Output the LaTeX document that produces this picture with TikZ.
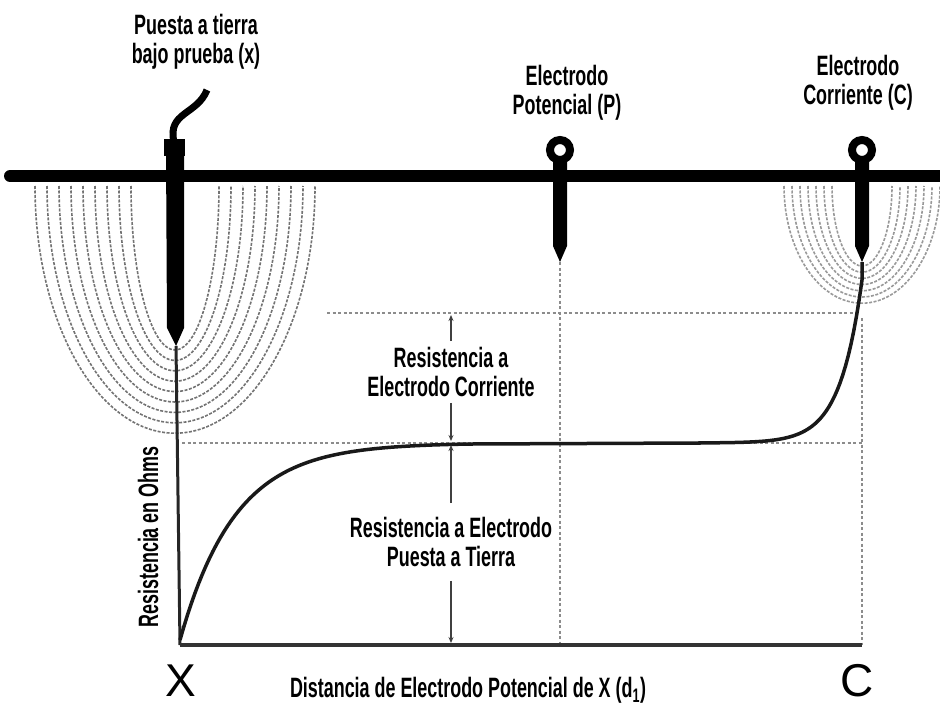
\documentclass[tikz,border=0pt]{standalone}
\usepackage{fontspec}
\setmainfont{Liberation Sans}[FakeStretch=0.64]
\newfontfamily\bigfont{Liberation Sans}
\usetikzlibrary{arrows.meta, positioning}

\tikzset{
  ground/.style={line width=12pt, line cap=round},
  ring/.style={line width=8pt},
  field/.style={black!55, line width=1.6pt, dash pattern=on 3pt off 1.5pt},
  guide/.style={black!45, line width=2pt, dash pattern=on 3pt off 2.5pt},
  curve/.style={line width=3.5pt, black!90},
  axis/.style={line width=4pt, black!80},
  dim/.style={line width=1.6pt, black!75, -{Stealth[length=6pt, width=5pt]}},
  lbl/.style={align=center, font=\bfseries\fontsize{28}{29}\selectfont, inner sep=2pt},
  big/.style={font=\bigfont\fontsize{46}{46}\selectfont, inner sep=0pt}
}

\begin{document}
\begin{tikzpicture}[x=1pt, y=-1pt]
  \useasboundingbox (0,0) rectangle (940,706);
  \coordinate (xtip) at (176,346);
  \coordinate (ptip) at (560,262);
  \coordinate (ctip) at (862,262);
  \coordinate (o) at (180,645);
  \coordinate (cend) at (862,645);

  % lineas de campo
  \foreach \i in {0,...,8}{
    \pgfmathsetmacro\w{44+12*\i}
    \pgfmathsetmacro\d{164+10.4*\i}
    \draw[field] ({175-\w},186) arc[start angle=180, end angle=360, x radius=\w pt, y radius=\d pt];
  }
  \foreach \i in {0,...,6}{
    \pgfmathsetmacro\w{30+8*\i}
    \pgfmathsetmacro\d{80+6.2*\i}
    \draw[field, black!40] ({862-\w},186) arc[start angle=180, end angle=360, x radius=\w pt, y radius=\d pt];
  }

  \draw[guide] (182,443) -- (862,443);
  \draw[guide] (327,313) -- (856,313);
  \draw[guide] (ptip) -- (ptip |- o);
  \draw[guide] (862,318) -- (cend);

  \draw[line width=3pt, black!85] (xtip) -- (o);
  \draw[axis] (o) -- (cend);

  \draw[ground] (10,176) -- (950,176);

  % electrodos
  \fill (164,139) rectangle (185,156);
  \fill (166,150) -- (184,150) -- (184,328) -- (xtip) -- (167,328) -- cycle;
  \draw[line width=7pt] (174,142) .. controls (167,112) and (197,115) .. (207,90);
  \draw[ring] (560,150) circle[radius=10pt];
  \fill (553,160) -- (567,160) -- (567,246) -- (ptip) -- (553,246) -- cycle;
  \draw[ring] (862,150) circle[radius=10pt];
  \fill (855,160) -- (869,160) -- (869,246) -- (ctip) -- (855,246) -- cycle;

  \draw[curve] plot[domain=180:470, samples=80] (\x, {443+197*exp(-(\x-180)/55)})
    -- (700,443) -- plot[domain=700:862, samples=60] (\x, {443-163*exp((\x-862)/22)}) -- (ctip);

  \node[lbl] (tx) at (196,42) {Puesta a tierra\\bajo prueba (x)};
  \node[lbl] (tp) at (567,93) {Electrodo\\Potencial (P)};
  \node[lbl] (tc) at (858,83) {Electrodo\\Corriente (C)};
  \node[lbl, inner ysep=6pt] (rc) at (451,372) {Resistencia a\\Electrodo Corriente};
  \node[lbl, inner ysep=14pt] (rt) at (451,542) {Resistencia a Electrodo\\Puesta a Tierra};
  \node[lbl, rotate=90] (ry) at (148,537) {Resistencia en Ohms};
  \node[lbl] (dx) at (468,690) {Distancia de Electrodo Potencial de X (d\textsubscript{1})};
  \node[big] (bx) at (181,681) {X};
  \node[big] (bc) at (857,681) {C};

  \draw[dim] (rc.north) -- (451,315);
  \draw[dim] (rc.south) -- (451,441);
  \draw[dim] (rt.north) -- (451,445);
  \draw[dim] (rt.south) -- (451,643);
\end{tikzpicture}
\end{document}
